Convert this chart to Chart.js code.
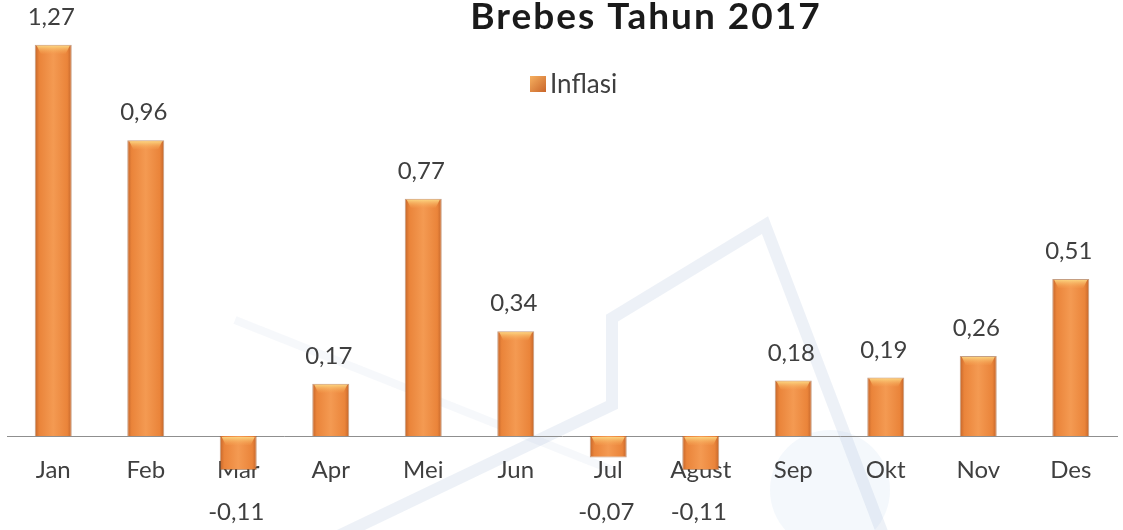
<!DOCTYPE html>
<html>
<head>
<meta charset="utf-8">
<script src="https://cdn.jsdelivr.net/npm/chart.js@4.4.0/dist/chart.umd.min.js"></script>
<style>
  html, body { margin: 0; padding: 0; background: #fff; }
  canvas { display: block; }
</style>
</head>
<body>
<canvas id="chart" width="1123" height="530"></canvas>
<script>
const months = ['Jan', 'Feb', 'Mar', 'Apr', 'Mei', 'Jun', 'Jul', 'Agust', 'Sep', 'Okt', 'Nov', 'Des'];
const inflasi = [1.27, 0.96, -0.11, 0.17, 0.77, 0.34, -0.07, -0.11, 0.18, 0.19, 0.26, 0.51];
const seriesName = 'Inflasi';
const titleText = 'Brebes Tahun 2017';

const FONT = 'Lato, "Open Sans", sans-serif';
const TEXT = '#3f3f3f';

function fmt(v) {
  return v.toFixed(2).replace('.', ',');
}

function barFill(ctx, left, right) {
  const g = ctx.createLinearGradient(left, 0, right, 0);
  g.addColorStop(0, '#c2642a');
  g.addColorStop(0.12, '#ea843a');
  g.addColorStop(0.5, '#f49a52');
  g.addColorStop(0.88, '#ea843a');
  g.addColorStop(1, '#c2642a');
  return g;
}

// faint watermark behind the chart
const watermark = {
  id: 'watermark',
  beforeDraw(chart) {
    const c = chart.ctx;
    c.save();
    c.fillStyle = 'rgba(200,220,240,0.2)';
    c.beginPath();
    c.arc(830, 490, 60, 0, Math.PI * 2);
    c.fill();
    c.strokeStyle = 'rgba(140,170,205,0.16)';
    c.lineWidth = 12;
    c.lineJoin = 'miter';
    c.beginPath();
    c.moveTo(330, 540);
    c.lineTo(612, 405);
    c.lineTo(612, 318);
    c.lineTo(765, 225);
    c.lineTo(885, 540);
    c.stroke();
    c.strokeStyle = 'rgba(140,170,205,0.08)';
    c.lineWidth = 8;
    c.beginPath();
    c.moveTo(235, 320);
    c.lineTo(612, 470);
    c.stroke();
    c.restore();
  }
};

// bar highlights, value labels, title and legend
const decorations = {
  id: 'decorations',
  afterDatasetsDraw(chart) {
    const c = chart.ctx;
    const meta = chart.getDatasetMeta(0);
    const zero = chart.scales.y.getPixelForValue(0);
    c.save();
    meta.data.forEach((bar, i) => {
      const w = bar.width;
      const l = bar.x - w / 2;
      const top = Math.min(bar.y, bar.base);
      const h = Math.abs(bar.base - bar.y);
      const capH = Math.min(9, h * 0.5);
      const g = c.createLinearGradient(0, top, 0, top + capH);
      g.addColorStop(0, '#fde08a');
      g.addColorStop(1, 'rgba(246,160,80,0.2)');
      c.fillStyle = g;
      c.beginPath();
      c.moveTo(l + 2, top + 1);
      c.lineTo(l + w - 2, top + 1);
      c.lineTo(l + w - 6, top + capH);
      c.lineTo(l + 6, top + capH);
      c.closePath();
      c.fill();

      const v = inflasi[i];
      c.fillStyle = TEXT;
      c.font = '24px ' + FONT;
      c.textAlign = 'center';
      c.textBaseline = 'alphabetic';
      if (v >= 0) {
        c.fillText(fmt(v), bar.x - 2, bar.y - 20);
      } else {
        c.fillText(fmt(v), bar.x - 2, zero + 84);
      }
    });

    // title
    c.fillStyle = '#1a1a1a';
    c.font = 'bold 37px ' + FONT;
    c.textAlign = 'center';
    c.letterSpacing = '2px';
    c.fillText(titleText, 646, 29);
    c.letterSpacing = '0px';

    // legend
    const lg = c.createLinearGradient(530, 76, 546, 92);
    lg.addColorStop(0, '#f6b060');
    lg.addColorStop(1, '#c9652a');
    c.fillStyle = lg;
    c.fillRect(530, 76, 16, 16);
    c.fillStyle = TEXT;
    c.font = '26px ' + FONT;
    c.textAlign = 'left';
    c.fillText(seriesName, 550, 93);
    c.restore();
  }
};

new Chart(document.getElementById('chart'), {
  type: 'bar',
  data: {
    labels: months,
    datasets: [{
      label: seriesName,
      data: inflasi,
      backgroundColor(context) {
        const chart = context.chart;
        if (!chart.chartArea || context.type !== 'data') return '#ef8c40';
        const x = chart.scales.x.getPixelForValue(context.dataIndex);
        const step = chart.scales.x.getPixelForValue(1) - chart.scales.x.getPixelForValue(0);
        const w = step * 0.4;
        return barFill(chart.ctx, x - w / 2, x + w / 2);
      },
      borderColor: 'rgba(150,80,30,0.55)',
      borderWidth: 1,
      categoryPercentage: 1,
      barPercentage: 0.4
    }]
  },
  options: {
    responsive: false,
    animation: false,
    layout: { padding: { left: 7, right: 6, top: 0, bottom: 0 } },
    plugins: {
      legend: { display: false },
      title: { display: false },
      tooltip: { enabled: false }
    },
    scales: {
      x: {
        position: { y: 0 },
        z: 1,
        grid: { display: false, drawTicks: false },
        border: { display: true, color: '#8f8f8f', width: 1 },
        ticks: { color: TEXT, font: { family: FONT, size: 24 }, padding: 20, maxRotation: 0 }
      },
      y: {
        display: false,
        min: -0.305,
        max: 1.4156
      }
    }
  },
  plugins: [watermark, decorations]
});
</script>
</body>
</html>
